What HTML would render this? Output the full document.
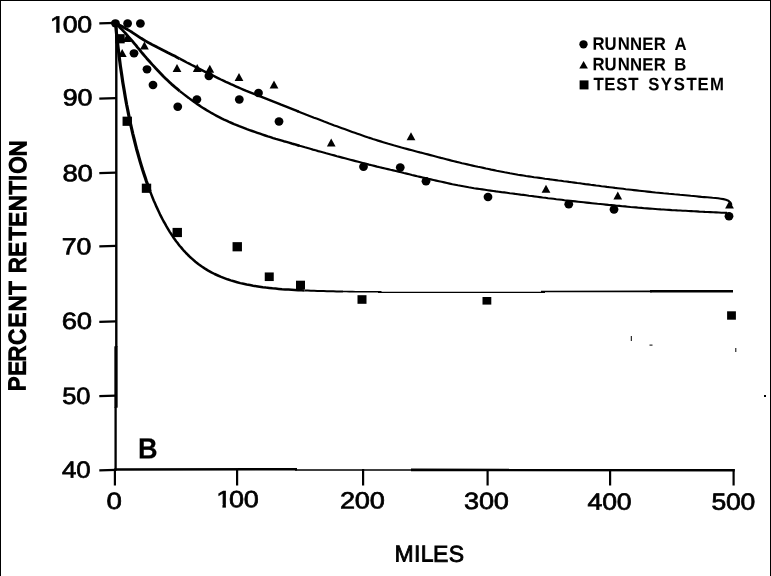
<!DOCTYPE html>
<html lang="en"><head><meta charset="utf-8"><title>Percent retention vs miles</title>
<style>html,body{margin:0;padding:0;background:#fff;}body{width:771px;height:576px;overflow:hidden;}svg{display:block;}</style></head>
<body>
<svg width="771" height="576" viewBox="0 0 771 576" role="img" aria-label="Percent retention versus miles for Runner A, Runner B and test system">
<rect x="0" y="0" width="771" height="576" fill="#fff"/>
<rect x="0" y="0" width="771" height="1" fill="#000"/>
<rect x="0" y="0" width="1" height="576" fill="#000"/>
<rect x="770" y="0" width="1" height="576" fill="#000"/>
<g stroke="#000" fill="none" stroke-linecap="butt">
<g stroke="none" fill="#000"><rect x="115.1" y="22" width="2.4" height="325"/><rect x="114.35" y="346.3" width="3.3" height="61.4"/><rect x="114.45" y="407" width="2.3" height="63.8"/></g>
<line x1="114.3" y1="469.5" x2="297" y2="469.3" stroke-width="2.5"/>
<line x1="295" y1="469.9" x2="413" y2="470.0" stroke-width="1.5"/>
<line x1="411" y1="469.9" x2="734.7" y2="470.1" stroke-width="2.6"/>
<line x1="99.3" y1="23.4" x2="116" y2="22.9" stroke-width="2.2"/>
<line x1="99.3" y1="98.6" x2="116" y2="98.1" stroke-width="2.2"/>
<line x1="99.3" y1="173.2" x2="116" y2="172.7" stroke-width="2.2"/>
<line x1="99.3" y1="246.4" x2="116" y2="245.9" stroke-width="2.2"/>
<line x1="99.3" y1="321.9" x2="116" y2="321.4" stroke-width="2.2"/>
<line x1="99.3" y1="396.2" x2="116" y2="395.7" stroke-width="2.2"/>
<line x1="99.3" y1="470.3" x2="116" y2="469.8" stroke-width="2.2"/>
<line x1="114.9" y1="469" x2="114.9" y2="485.5" stroke-width="2.2"/>
<line x1="237.1" y1="469" x2="237.1" y2="485.5" stroke-width="2.2"/>
<line x1="363.1" y1="469" x2="363.1" y2="485.5" stroke-width="2.2"/>
<line x1="487.6" y1="469" x2="487.6" y2="485.5" stroke-width="2.2"/>
<line x1="610.1" y1="469" x2="610.1" y2="485.5" stroke-width="2.2"/>
<line x1="733.6" y1="469" x2="733.6" y2="485.5" stroke-width="2.2"/>
<path d="M115.5,23.0 L117.9,24.3 L120.3,25.5 L122.7,26.8 L125.1,28.2 L127.4,29.5 L129.8,30.9 L132.1,32.3 L134.4,33.8 L136.7,35.3 L138.9,36.8 L141.2,38.3 L143.5,39.7 L145.8,41.1 L148.2,42.5 L150.6,43.8 L152.9,45.1 L155.4,46.3 L157.8,47.6 L160.2,48.8 L162.6,50.0 L165.1,51.2 L167.5,52.5 L170.0,53.7 L172.4,54.9 L174.8,56.1 L177.2,57.4 L179.6,58.7" stroke-width="2.8" stroke-linejoin="round"/>
<path d="M179.6,58.7 L182.0,59.9 L184.4,61.2 L186.8,62.5 L189.2,63.7 L191.7,65.0 L194.1,66.2 L196.5,67.5 L198.9,68.7 L201.4,69.9 L203.8,71.1 L206.2,72.3 L208.7,73.5 L211.1,74.7 L213.6,75.9 L216.0,77.1 L218.5,78.3 L220.9,79.5 L223.4,80.6 L225.8,81.8 L228.3,82.9 L230.8,84.1 L233.3,85.2 L235.7,86.3 L238.2,87.4 L240.7,88.5 L243.2,89.6 L245.7,90.7 L248.2,91.7 L250.7,92.7 L253.3,93.7 L255.8,94.7 L258.4,95.6 L260.9,96.6 L263.4,97.6 L266.0,98.6 L268.5,99.6 L271.0,100.6 L273.5,101.6 L276.1,102.6 L278.6,103.6 L281.1,104.7 L283.6,105.7 L286.2,106.7 L288.7,107.7 L291.2,108.7 L293.7,109.7 L296.3,110.7 L298.8,111.7" stroke-width="2.45" stroke-linejoin="round"/>
<path d="M296.3,110.7 L298.8,111.7 L301.3,112.7 L303.9,113.7 L306.4,114.7 L308.9,115.7 L311.5,116.7 L314.0,117.7 L316.5,118.6 L319.1,119.6 L321.6,120.6 L324.1,121.6 L326.7,122.5 L329.2,123.5 L331.8,124.4 L334.3,125.4 L336.9,126.3 L339.4,127.2 L342.0,128.2 L344.5,129.1 L347.1,130.0 L349.7,131.0 L352.2,131.9 L354.8,132.8 L357.4,133.7 L359.9,134.6 L362.5,135.5 L365.1,136.4 L367.6,137.3 L370.2,138.1 L372.8,139.0 L375.4,139.8 L378.0,140.6 L380.6,141.4 L383.2,142.2 L385.8,143.0 L388.4,143.8 L391.0,144.5 L393.6,145.3 L396.2,146.0 L398.8,146.7 L401.5,147.5 L404.1,148.2 L406.7,148.9 L409.3,149.6 L412.0,150.3 L414.6,151.0 L417.2,151.7 L419.9,152.4 L422.5,153.0 L425.1,153.7 L427.8,154.4 L430.4,155.1 L433.0,155.8 L435.7,156.5 L438.3,157.2 L440.9,157.9 L443.6,158.5 L446.2,159.2 L448.8,159.9 L451.5,160.6 L454.1,161.2 L456.7,161.9 L459.4,162.5 L462.0,163.2 L464.7,163.8 L467.3,164.4 L470.0,165.0 L472.6,165.6 L475.3,166.2 L477.9,166.8 L480.6,167.3 L483.3,167.9 L485.9,168.5 L488.6,169.0 L491.2,169.6 L493.9,170.1 L496.6,170.7 L499.2,171.2 L501.9,171.7 L504.6,172.3 L507.3,172.8 L509.9,173.3 L512.6,173.7 L515.3,174.2 L518.0,174.7 L520.6,175.1 L523.3,175.5 L526.0,176.0 L528.7,176.4 L531.4,176.8 L534.1,177.2 L536.8,177.5 L539.5,177.9 L542.2,178.3 L544.9,178.7 L547.6,179.0 L550.2,179.4 L552.9,179.7 L555.6,180.1 L558.3,180.5 L561.0,180.8 L563.7,181.2 L566.4,181.5 L569.1,181.9 L571.8,182.2 L574.5,182.6 L577.2,183.0 L579.9,183.3 L582.6,183.7 L585.3,184.1 L588.0,184.4 L590.7,184.8 L593.4,185.1 L596.1,185.5 L598.8,185.8 L601.5,186.2 L604.2,186.5 L606.9,186.9 L609.6,187.2 L612.3,187.5 L615.0,187.9 L617.7,188.2 L620.4,188.5 L623.1,188.8 L625.8,189.2 L628.5,189.5 L631.2,189.8 L633.9,190.1 L636.6,190.4 L639.3,190.7 L642.0,191.0 L644.7,191.3 L647.4,191.6 L650.1,191.9 L652.8,192.2 L655.5,192.5 L658.2,192.7 L660.9,193.0 L663.6,193.3 L666.3,193.5 L669.0,193.8 L671.7,194.0 L674.5,194.3 L677.2,194.5 L679.9,194.8 L682.6,195.0 L685.3,195.2 L688.0,195.5 L690.7,195.8 L693.4,196.0 L696.1,196.3 L698.8,196.6 L701.5,196.9 L704.3,197.1 L707.1,197.3 L709.8,197.5 L712.6,197.8 L715.4,198.0 L718.1,198.3 L720.8,198.7 L723.4,199.1 L725.9,199.7 L728.4,200.7 L730.4,202.5 L731.5,205.0" stroke-width="2.15" stroke-linejoin="round"/>
<path d="M115.5,23.0 L117.5,24.9 L119.4,26.9 L121.4,28.9 L123.2,30.9 L125.1,32.9 L126.9,35.0 L128.8,37.1 L130.6,39.1 L132.4,41.2 L134.2,43.3 L136.0,45.4 L137.7,47.6 L139.5,49.7 L141.2,51.9 L143.0,54.0 L144.8,56.1 L146.6,58.2 L148.4,60.2 L150.3,62.3 L152.1,64.4 L154.0,66.4 L155.9,68.5 L157.8,70.5 L159.7,72.5 L161.6,74.5 L163.5,76.5 L165.5,78.4 L167.5,80.3 L169.5,82.2 L171.5,84.1 L173.6,85.9 L175.7,87.7 L177.8,89.4 L179.9,91.2" stroke-width="2.8" stroke-linejoin="round"/>
<path d="M179.9,91.2 L182.1,92.9 L184.3,94.6 L186.5,96.3 L188.7,97.9 L190.9,99.6 L193.2,101.2 L195.4,102.8 L197.7,104.4 L200.0,105.9 L202.3,107.5 L204.6,108.9 L207.0,110.4 L209.4,111.8 L211.8,113.2 L214.2,114.5 L216.6,115.8 L219.1,117.1 L221.5,118.4 L224.0,119.6 L226.5,120.7 L229.0,121.9 L231.6,123.0 L234.1,124.1 L236.7,125.1 L239.2,126.2 L241.8,127.2 L244.4,128.2 L246.9,129.2 L249.5,130.1 L252.2,131.0 L254.8,131.9 L257.4,132.8 L260.0,133.7 L262.6,134.6 L265.2,135.5 L267.8,136.4 L270.5,137.2 L273.1,138.1 L275.8,138.9 L278.4,139.6 L281.1,140.4 L283.7,141.2 L286.4,141.9 L289.0,142.7 L291.7,143.5 L294.3,144.2 L297.0,145.0 L299.6,145.8" stroke-width="2.45" stroke-linejoin="round"/>
<path d="M297.0,145.0 L299.6,145.8 L302.3,146.5 L305.0,147.3 L307.6,148.0 L310.3,148.8 L312.9,149.6 L315.6,150.3 L318.2,151.1 L320.9,151.8 L323.6,152.5 L326.2,153.3 L328.9,154.0 L331.6,154.7 L334.2,155.4 L336.9,156.2 L339.6,156.9 L342.2,157.6 L344.9,158.3 L347.6,159.0 L350.3,159.7 L352.9,160.4 L355.6,161.1 L358.3,161.8 L361.0,162.5 L363.6,163.2 L366.3,163.9 L369.0,164.6 L371.7,165.2 L374.3,165.9 L377.0,166.6 L379.7,167.2 L382.4,167.9 L385.1,168.5 L387.8,169.1 L390.5,169.8 L393.2,170.4 L395.9,171.0 L398.5,171.7 L401.2,172.3 L403.9,173.0 L406.6,173.6 L409.3,174.3 L412.0,175.0 L414.6,175.6 L417.3,176.3 L420.0,176.9 L422.7,177.5 L425.4,178.1 L428.1,178.8 L430.8,179.4 L433.5,180.0 L436.2,180.6 L438.9,181.2 L441.6,181.8 L444.3,182.4 L447.0,183.0 L449.7,183.6 L452.4,184.2 L455.1,184.7 L457.8,185.3 L460.5,185.8 L463.2,186.3 L465.9,186.8 L468.7,187.3 L471.4,187.7 L474.1,188.2 L476.8,188.6 L479.6,189.0 L482.3,189.4 L485.0,189.8 L487.8,190.2 L490.5,190.6 L493.2,191.0 L496.0,191.4 L498.7,191.7 L501.5,192.1 L504.2,192.4 L506.9,192.8 L509.7,193.2 L512.4,193.5 L515.2,193.9 L517.9,194.2 L520.6,194.6 L523.4,194.9 L526.1,195.3 L528.9,195.7 L531.6,196.0 L534.3,196.4 L537.1,196.7 L539.8,197.1 L542.6,197.5 L545.3,197.8 L548.1,198.2 L550.8,198.5 L553.5,198.8 L556.3,199.2 L559.0,199.5 L561.8,199.8 L564.5,200.2 L567.3,200.5 L570.0,200.8 L572.7,201.1 L575.5,201.4 L578.2,201.7 L581.0,202.0 L583.7,202.3 L586.5,202.6 L589.2,202.9 L592.0,203.2 L594.7,203.5 L597.5,203.8 L600.2,204.0 L603.0,204.3 L605.7,204.6 L608.5,204.9 L611.2,205.1 L614.0,205.4 L616.7,205.7 L619.5,205.9 L622.2,206.2 L625.0,206.4 L627.7,206.7 L630.5,207.0 L633.2,207.2 L636.0,207.4 L638.7,207.7 L641.5,207.9 L644.2,208.2 L647.0,208.4 L649.8,208.6 L652.5,208.8 L655.3,209.0 L658.0,209.2 L660.8,209.4 L663.5,209.5 L666.3,209.7 L669.0,209.9 L671.8,210.1 L674.6,210.2 L677.3,210.4 L680.1,210.5 L682.8,210.7 L685.6,210.8 L688.4,211.0 L691.1,211.1 L693.9,211.3 L696.6,211.4 L699.4,211.6 L702.2,211.7 L704.9,211.9 L707.7,212.0 L710.4,212.1 L713.2,212.3 L716.0,212.4 L718.7,212.5 L721.5,212.7 L724.2,212.8 L727.0,212.9" stroke-width="2.15" stroke-linejoin="round"/>
<path d="M115.5,23.1 L116.7,35.4 L118.0,46.6 L119.2,56.8 L120.4,66.1 L121.7,74.8 L122.9,82.9 L124.2,90.6 L125.4,97.7 L126.6,104.5 L127.9,110.9 L129.1,117.0 L130.3,122.9 L131.6,128.5 L132.8,133.8 L134.1,139.0 L135.3,143.9 L136.5,148.7 L137.8,153.2 L139.0,157.7 L140.2,161.9 L141.5,166.1 L142.7,170.0 L144.0,173.9 L145.2,177.6 L146.4,181.2 L147.7,184.7 L148.9,188.1 L150.1,191.4" stroke-width="3.2" stroke-linejoin="round"/>
<path d="M148.9,188.1 L150.1,191.4 L151.4,194.6 L152.6,197.7 L153.8,200.7 L155.1,203.6 L156.3,206.4 L157.6,209.1 L158.8,211.7 L160.0,214.3 L161.3,216.8 L162.5,219.2 L163.7,221.5 L165.0,223.7 L166.2,225.9 L167.5,228.1 L168.7,230.1 L169.9,232.1 L171.2,234.0 L172.4,235.9 L173.6,237.7 L174.9,239.5 L176.1,241.2 L177.4,242.8 L178.6,244.4 L179.8,246.0 L181.1,247.4 L182.3,248.9 L183.5,250.3 L184.8,251.7 L186.0,253.0 L187.2,254.2 L188.5,255.5 L189.7,256.7 L192.2,258.9 L195.4,261.7 L198.6,264.2 L201.8,266.5 L205.0,268.6 L208.2,270.6 L211.4,272.4 L214.6,274.0 L217.9,275.5 L221.1,276.9 L224.3,278.1 L227.5,279.3 L230.7,280.4 L233.9,281.3 L237.1,282.2 L240.3,283.1 L243.5,283.8 L246.7,284.5 L249.9,285.1 L253.1,285.7 L256.4,286.2 L259.6,286.7 L262.8,287.2 L266.0,287.6 L269.2,287.9 L272.4,288.3 L275.6,288.6 L278.8,288.9 L282.0,289.2 L285.2,289.4 L288.4,289.6 L291.6,289.8 L294.8,290.0 L298.1,290.2 L301.3,290.3 L304.5,290.5" stroke-width="2.5" stroke-linejoin="round"/>
<path d="M304.5,290.5 L307.7,290.6 L310.9,290.7 L314.1,290.8 L317.3,290.9 L320.5,291.0 L323.7,291.1 L326.9,291.2 L330.1,291.3 L333.3,291.3 L336.5,291.4 L339.8,291.4 L343.0,291.5" stroke-width="2.0" stroke-linejoin="round"/>
<path d="M343.0,291.5 L346.2,291.5 L349.4,291.6 L352.6,291.6 L355.8,291.7 L359.0,291.7 L362.2,291.7 L365.4,291.7 L368.6,291.8 L371.8,291.8 L375.0,291.8 L378.2,291.8 L381.5,291.9" stroke-width="1.6" stroke-linejoin="round"/>
<line x1="378" y1="292.3" x2="545" y2="292.3" stroke-width="1.3"/>
<line x1="541" y1="291.5" x2="652" y2="291.4" stroke-width="1.6"/>
<line x1="650" y1="291.3" x2="733" y2="291.3" stroke-width="2.4"/>
</g>
<g fill="#000">
<ellipse cx="115.4" cy="23.3" rx="4.4" ry="4.15"/>
<ellipse cx="127.6" cy="23.5" rx="4.4" ry="4.15"/>
<ellipse cx="140.4" cy="23.5" rx="4.4" ry="4.15"/>
<ellipse cx="134" cy="53.3" rx="4.4" ry="4.15"/>
<ellipse cx="147" cy="69.3" rx="4.4" ry="4.15"/>
<ellipse cx="153" cy="85" rx="4.4" ry="4.15"/>
<ellipse cx="177.75" cy="106.75" rx="4.4" ry="4.15"/>
<ellipse cx="196.9" cy="99.4" rx="4.4" ry="4.15"/>
<ellipse cx="208.9" cy="76" rx="4.4" ry="4.15"/>
<ellipse cx="239.3" cy="99.5" rx="4.4" ry="4.15"/>
<ellipse cx="258.5" cy="93" rx="4.4" ry="4.15"/>
<ellipse cx="279" cy="121.5" rx="4.4" ry="4.15"/>
<ellipse cx="363.5" cy="166.75" rx="4.4" ry="4.15"/>
<ellipse cx="400.25" cy="167.5" rx="4.4" ry="4.15"/>
<ellipse cx="426" cy="181.25" rx="4.4" ry="4.15"/>
<ellipse cx="488" cy="197" rx="4.4" ry="4.15"/>
<ellipse cx="568.75" cy="204.25" rx="4.4" ry="4.15"/>
<ellipse cx="614" cy="209.5" rx="4.4" ry="4.15"/>
<ellipse cx="729" cy="216.25" rx="4.4" ry="4.15"/>
<polygon points="122.2,49.1 126.7,57.1 117.8,57.1"/>
<polygon points="126.9,34.0 131.3,42.0 122.5,42.0"/>
<polygon points="144.4,41.6 148.8,49.6 140.0,49.6"/>
<polygon points="177.0,64.0 181.4,72.0 172.6,72.0"/>
<polygon points="197.2,64.0 201.7,72.0 192.8,72.0"/>
<polygon points="209.8,64.8 214.2,72.7 205.3,72.7"/>
<polygon points="239.0,73.0 243.4,81.0 234.6,81.0"/>
<polygon points="274.0,80.5 278.4,88.5 269.6,88.5"/>
<polygon points="331.2,138.6 335.6,146.4 326.9,146.4"/>
<polygon points="411.0,132.3 415.4,140.2 406.6,140.2"/>
<polygon points="546.0,184.8 550.4,192.7 541.6,192.7"/>
<polygon points="617.8,191.6 622.1,199.4 613.4,199.4"/>
<polygon points="729.5,200.6 733.9,208.4 725.1,208.4"/>
<rect x="115.30" y="34.15" width="9.4" height="9.2"/>
<rect x="122.55" y="116.65" width="9.4" height="9.2"/>
<rect x="141.80" y="183.65" width="9.4" height="9.2"/>
<rect x="172.55" y="227.90" width="9.4" height="9.2"/>
<rect x="232.55" y="242.15" width="9.4" height="9.2"/>
<rect x="264.75" y="272.45" width="9.0" height="8.6"/>
<rect x="296.00" y="280.70" width="9.0" height="8.6"/>
<rect x="357.50" y="295.20" width="9.0" height="8.6"/>
<rect x="482.50" y="297.00" width="8.8" height="7.6"/>
<rect x="727.10" y="311.30" width="8.8" height="8.4"/>
<circle cx="583.5" cy="44.3" r="4.15"/>
<polygon points="583.6,60.9 587.9,68.5 579.3,68.5"/>
<rect x="579.6" y="80.4" width="8.9" height="9"/>
<rect x="630.8" y="336" width="1" height="5"/>
<rect x="649.5" y="344.6" width="3" height="1"/>
<rect x="735.3" y="348" width="1" height="4"/>
<rect x="764" y="395" width="2" height="2"/>
</g>
<g font-family="Liberation Sans, Arial, Helvetica, sans-serif" font-size="200" fill="#000" stroke="#000" style="font-kerning:none">
<text transform="translate(62.69,105.47) rotate(0.05) scale(0.13435,0.11800)" stroke-width="5.93" letter-spacing="-1.69">90</text>
<text transform="translate(62.50,181.32) rotate(0.05) scale(0.13757,0.11800)" stroke-width="5.93" letter-spacing="-1.69">80</text>
<text transform="translate(61.83,254.57) rotate(0.05) scale(0.13370,0.11800)" stroke-width="5.93" letter-spacing="-1.69">70</text>
<text transform="translate(61.81,329.07) rotate(0.05) scale(0.13733,0.11800)" stroke-width="5.93" letter-spacing="-1.69">60</text>
<text transform="translate(62.18,404.07) rotate(0.05) scale(0.12735,0.11800)" stroke-width="5.93" letter-spacing="-1.69">50</text>
<text transform="translate(62.01,477.82) rotate(0.05) scale(0.12910,0.11800)" stroke-width="5.93" letter-spacing="-1.69">40</text>
<text transform="translate(106.52,509.07) rotate(0.05) scale(0.13807,0.11800)" stroke-width="5.93">0</text>
<text transform="translate(339.93,508.47) rotate(0.05) scale(0.13571,0.11800)" stroke-width="5.93" letter-spacing="-1.69">200</text>
<text transform="translate(464.07,509.07) rotate(0.05) scale(0.13561,0.11800)" stroke-width="5.93" letter-spacing="-1.69">300</text>
<text transform="translate(587.59,509.67) rotate(0.05) scale(0.13322,0.11800)" stroke-width="5.93" letter-spacing="-1.69">400</text>
<text transform="translate(711.54,509.67) rotate(0.05) scale(0.13260,0.11800)" stroke-width="5.93" letter-spacing="-1.69">500</text>
<text transform="translate(137.88,458.50) rotate(0.05) scale(0.13578,0.14600)" font-weight="bold" stroke-width="1.37">B</text>
<text transform="translate(25.10,390.60) rotate(-89.8) scale(0.10881,0.11700)" stroke-width="15.38" x="-4.8 135.9 267.5 420.3 581.0 728.9 881.9">PERCENT</text>
<text transform="translate(25.50,271.60) rotate(-89.8) scale(0.10881,0.11700)" stroke-width="15.38" x="-13.7 136.4 286.8 412.1 557.0 708.7 832.4 901.5 1060.7">RETENTION</text>
<clipPath id="nofootY"><path clip-rule="evenodd" d="M-60,-300 H700 V100 H-60 Z M2.3,-25.9 H46.3 V40 H2.3 Z M71.9,-25.9 H105.9 L112.4,-15.9 V40 H71.9 Z"/></clipPath><text transform="translate(50.03,32.57) rotate(0.05) scale(0.13357,0.11800)" stroke-width="5.93" x="0 95.3 204.8" clip-path="url(#nofootY)">100</text>
<clipPath id="nofootX"><path clip-rule="evenodd" d="M-60,-300 H700 V100 H-60 Z M2.3,-25.9 H46.3 V40 H2.3 Z M71.9,-25.9 H105.9 L112.4,-15.9 V40 H71.9 Z"/></clipPath><text transform="translate(216.20,507.17) rotate(0.05) scale(0.13503,0.11800)" stroke-width="5.93" x="0 95.1 204.6" clip-path="url(#nofootX)">100</text>
<text transform="translate(593.75,49.85) rotate(0.05) scale(0.08370,0.09000)" font-weight="bold" stroke-width="0.56" x="-15.0 129.2 286.3 432.6 578.7 717.1 911.0 965.6">RUNNER A</text>
<text transform="translate(593.75,70.35) rotate(0.05) scale(0.08370,0.09000)" font-weight="bold" stroke-width="0.56" x="-15.0 129.2 286.3 432.6 578.7 717.1 911.0 963.0">RUNNER B</text>
<text transform="translate(593.40,90.25) rotate(0.05) scale(0.08370,0.09000)" font-weight="bold" stroke-width="0.56" x="1.6 128.2 274.2 418.0 592.6 655.4 803.6 960.6 1113.3 1244.7 1392.8">TEST SYSTEM</text>
<text transform="translate(394.90,561.60) rotate(0.05) scale(0.11500,0.11500)" stroke-width="6.96" x="-2.9 166.1 224.7 331.1 467.7">MILES</text>
</g>
</svg>
</body></html>
